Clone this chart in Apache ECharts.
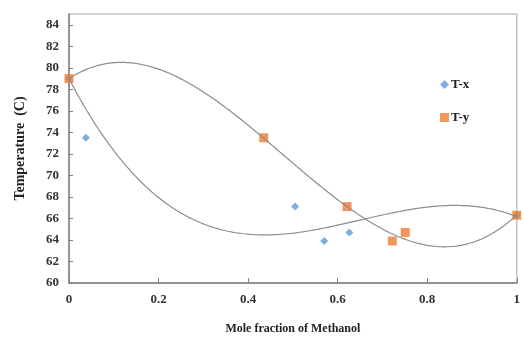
<!DOCTYPE html>
<html><head><meta charset="utf-8">
<script src="https://cdn.jsdelivr.net/npm/echarts@6/dist/echarts.min.js"></script>
<style>html,body{margin:0;padding:0;background:#fff}#c{width:523px;height:340px}</style>
</head><body><div id="c"></div>
<script>
var xLiquid = [0, 0.0375, 0.505, 0.570, 0.626, 1];
var xVapor  = [0, 0.435, 0.621, 0.722, 0.751, 1];
var temps   = [79, 73.5, 67.1, 63.9, 64.7, 66.3];
var polyOrder = 3;
var trendIntercept = 79;

// least squares on basis x^1..x^n with the constant term fixed (Excel "set intercept")
function polyfitFixed(xs, ys, n, c0) {
  var m = n, A = [], b = [];
  for (var i = 0; i < m; i++) { A.push(new Array(m).fill(0)); b.push(0); }
  for (var k = 0; k < xs.length; k++) {
    var yy = ys[k] - c0;
    for (var i = 0; i < m; i++) {
      b[i] += yy * Math.pow(xs[k], i + 1);
      for (var j = 0; j < m; j++) A[i][j] += Math.pow(xs[k], i + j + 2);
    }
  }
  for (var i = 0; i < m; i++) {
    var p = i;
    for (var r = i + 1; r < m; r++) if (Math.abs(A[r][i]) > Math.abs(A[p][i])) p = r;
    var t = A[i]; A[i] = A[p]; A[p] = t; var tb = b[i]; b[i] = b[p]; b[p] = tb;
    for (var r = i + 1; r < m; r++) {
      var f = A[r][i] / A[i][i];
      for (var c = i; c < m; c++) A[r][c] -= f * A[i][c];
      b[r] -= f * b[i];
    }
  }
  var coef = new Array(m).fill(0);
  for (var i = m - 1; i >= 0; i--) {
    var s = b[i];
    for (var c = i + 1; c < m; c++) s -= A[i][c] * coef[c];
    coef[i] = s / A[i][i];
  }
  return [c0].concat(coef);
}
function trend(xs, ys) {
  var co = polyfitFixed(xs, ys, polyOrder, trendIntercept), out = [];
  for (var i = 0; i <= 200; i++) {
    var x = i / 200, y = 0;
    for (var k = 0; k < co.length; k++) y += co[k] * Math.pow(x, k);
    out.push([x, y]);
  }
  return out;
}
function pairs(xs, ys) { return xs.map(function (x, i) { return [x, ys[i]]; }); }

var font = 'Liberation Serif';
var chart = echarts.init(document.getElementById('c'));
chart.setOption({
  animation: false,
  grid: { left: 69, right: 1, top: 14, bottom: 49, show: true, borderColor: '#c4c4c4', borderWidth: 1.5 },
  legend: {
    orient: 'vertical', left: 435, top: 73, itemGap: 20, itemWidth: 9, itemHeight: 9,
    data: [{ name: 'T-x', icon: 'diamond' }, { name: 'T-y', icon: 'rect' }],
    textStyle: { fontFamily: font, fontWeight: 'bold', fontSize: 13, color: '#222', padding: [0, 0, 0, -3] }
  },
  xAxis: {
    type: 'value', min: 0, max: 1, interval: 0.2,
    name: 'Mole fraction of Methanol', nameLocation: 'middle', nameGap: 40,
    nameTextStyle: { fontFamily: font, fontWeight: 'bold', fontSize: 12, color: '#222' },
    axisLine: { lineStyle: { color: '#808080', width: 1.5 } },
    axisTick: { inside: true, length: 5, lineStyle: { color: '#808080' } },
    axisLabel: { fontFamily: font, fontWeight: 'bold', fontSize: 13, color: '#333', margin: 10,
      formatter: function (v) { return String(+v.toFixed(1)); } },
    splitLine: { show: false }
  },
  yAxis: {
    type: 'value', min: 60, max: 85, interval: 2,
    name: 'Temperature  (C)', nameLocation: 'middle', nameGap: 42, nameRotate: 90,
    nameTextStyle: { fontFamily: font, fontWeight: 'bold', fontSize: 14, color: '#222' },
    axisLine: { show: true, lineStyle: { color: '#808080', width: 1.5 } },
    axisTick: { show: true, inside: true, length: 4, lineStyle: { color: '#808080' } },
    axisLabel: { fontFamily: font, fontWeight: 'bold', fontSize: 13, color: '#333', margin: 10, showMaxLabel: false },
    splitLine: { show: false }
  },
  series: [
    { name: 'T-x', type: 'scatter', symbol: 'diamond', symbolSize: 8, z: 2,
      itemStyle: { color: '#5B9BD5' }, data: pairs(xLiquid, temps) },
    { name: 'T-y', type: 'scatter', symbol: 'rect', symbolSize: 9, z: 3,
      itemStyle: { color: '#ED7D31' }, data: pairs(xVapor, temps) },
    { name: 'trend-x', type: 'line', showSymbol: false, smooth: false, z: 4,
      lineStyle: { color: '#8c8c8c', width: 1.2 }, data: trend(xLiquid, temps) },
    { name: 'trend-y', type: 'line', showSymbol: false, smooth: false, z: 4,
      lineStyle: { color: '#8c8c8c', width: 1.2 }, data: trend(xVapor, temps) }
  ]
});
</script></body></html>
